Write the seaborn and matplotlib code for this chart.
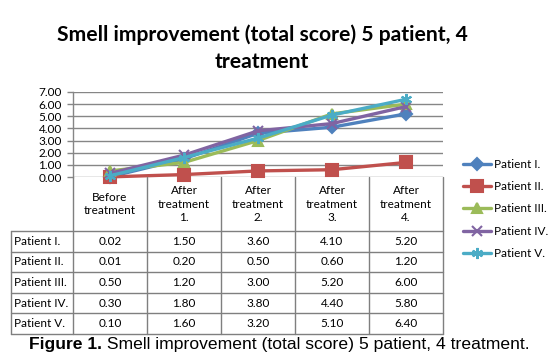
import matplotlib
matplotlib.use("Agg")
import matplotlib.pyplot as plt
import numpy as np
import pandas as pd
import seaborn as sns

stages = ["Before\ntreatment", "After\ntreatment\n1.", "After\ntreatment\n2.",
          "After\ntreatment\n3.", "After\ntreatment\n4."]
patients = ["Patient I.", "Patient II.", "Patient III.", "Patient IV.", "Patient V."]
patient_1 = [0.02, 1.50, 3.60, 4.10, 5.20]
patient_2 = [0.01, 0.20, 0.50, 0.60, 1.20]
patient_3 = [0.50, 1.20, 3.00, 5.20, 6.00]
patient_4 = [0.30, 1.80, 3.80, 4.40, 5.80]
patient_5 = [0.10, 1.60, 3.20, 5.10, 6.40]
y_ticks = [0, 1, 2, 3, 4, 5, 6, 7]

title = "Smell improvement (total score) 5 patient, 4\ntreatment"
caption_bold = "Figure 1."
caption_rest = " Smell improvement (total score) 5 patient, 4 treatment."

series = [patient_1, patient_2, patient_3, patient_4, patient_5]
colors = ["#4F81BD", "#C0504D", "#9BBB59", "#8064A2", "#4BACC6"]
markers = ["D", "s", "^", "x", (6, 2, 0)]
msizes = [6, 8, 7, 7, 8]

rows = []
for name, vals in zip(patients, series):
    for i, v in enumerate(vals):
        rows.append({"patient": name, "stage": i, "score": v})
df = pd.DataFrame(rows)

sns.set_theme(style="white")
plt.rcParams["font.family"] = ["Lato", "DejaVu Sans"]
plt.rcParams["text.color"] = "black"
plt.rcParams["ytick.color"] = "black"

W, H = 549, 364
fig = plt.figure(figsize=(W / 100, H / 100), dpi=100)


def px(x0, y0, x1, y1):
    return [x0 / W, 1 - y1 / H, (x1 - x0) / W, (y1 - y0) / H]


grid_c = "#868686"
ax = fig.add_axes(px(73, 92, 443, 177))
for name, col, mk, ms in zip(patients, colors, markers, msizes):
    sub = df[df["patient"] == name]
    sns.lineplot(data=sub, x="stage", y="score", color=col, marker=mk, markersize=ms,
                 markeredgecolor=col, markeredgewidth=1.5, linewidth=2.4,
                 label=name, ax=ax, clip_on=False, zorder=3)
ax.set_xlim(-0.5, 4.5)
ax.set_ylim(0, 7)
ax.set_yticks(y_ticks)
ax.set_yticklabels([f"{t:.2f}" for t in y_ticks])
ax.set_xticks([])
ax.set_xlabel("")
ax.set_ylabel("")
ax.grid(axis="y", color=grid_c, linewidth=1)
ax.set_axisbelow(True)
for s in ["top", "right", "bottom"]:
    ax.spines[s].set_visible(False)
ax.spines["left"].set_color(grid_c)
ax.spines["left"].set_linewidth(1)
ax.tick_params(axis="y", left=True, length=4, width=1, color=grid_c, pad=4,
               labelsize=8.5, labelcolor="black")

handles, labels = ax.get_legend_handles_labels()
ax.get_legend().remove()
fig.legend(handles, labels, loc="center left", bbox_to_anchor=(463 / W, 1 - 209 / H),
           frameon=False, fontsize=8.5, handlelength=2.4, handletextpad=0.2,
           labelspacing=0.95, borderpad=0, borderaxespad=0, labelcolor="black")

# data table below the plot
tax = fig.add_axes(px(73, 177, 443, 334))
tax.set_xlim(-0.5, 4.5)
tax.set_ylim(157, 0)
tax.axis("off")
head_h = 54
row_h = (157 - head_h) / 5
left_x = -0.5 - (73 - 11) / 74
lc = "#7f7f7f"
for k in range(6):
    y = head_h + k * row_h
    tax.plot([left_x, 4.5], [y, y], color=lc, lw=1, clip_on=False)
for i in range(6):
    tax.plot([i - 0.5, i - 0.5], [0, 157], color=lc, lw=1, clip_on=False)
tax.plot([left_x, left_x], [head_h, 157], color=lc, lw=1, clip_on=False)
for i, st in enumerate(stages):
    tax.text(i, head_h / 2, st, ha="center", va="center", fontsize=8.5, linespacing=1.25)
for r, (name, vals) in enumerate(zip(patients, series)):
    yc = head_h + (r + 0.5) * row_h
    tax.text(left_x + 0.04, yc, name, ha="left", va="center", fontsize=8.5, clip_on=False)
    for i, v in enumerate(vals):
        tax.text(i, yc, f"{v:.2f}", ha="center", va="center", fontsize=8.5)

fig.text(262 / W, 1 - 48 / H, title, ha="center", va="center", fontsize=15.2,
         fontweight="bold", linespacing=1.45)

t1 = fig.text(29 / W, 1 - 345 / H, caption_bold, ha="left", va="center", fontsize=12.6,
              fontweight="bold", family=["Liberation Sans", "DejaVu Sans"])
fig.canvas.draw()
bb = t1.get_window_extent()
fig.text(bb.x1 / W, 1 - 345 / H, caption_rest, ha="left", va="center", fontsize=12.6,
         family=["Liberation Sans", "DejaVu Sans"])

fig.savefig("out.png", dpi=100)
